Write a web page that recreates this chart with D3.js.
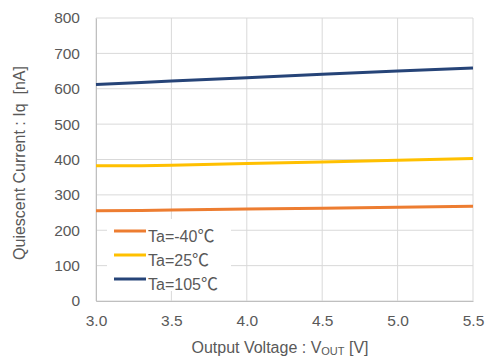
<!DOCTYPE html>
<html><head><meta charset="utf-8">
<script src="https://cdn.jsdelivr.net/npm/d3@7"></script>
<style>body{margin:0;background:#fff}svg{display:block}text{font-family:Arial,"Liberation Sans",sans-serif;fill:#595959}</style>
</head><body><svg id="c" width="486" height="358"></svg>
<script>
const xValues = [3.0, 3.3, 3.5, 4.0, 4.5, 5.0, 5.5];
const seriesLabels = ["Ta=-40", "Ta=25", "Ta=105"];
const unitLabel = "\u2103";
const iqM40 = [255, 256, 257, 260, 262, 265, 268];
const iq25 = [382, 382, 384, 389, 393, 398, 403];
const iq105 = [612, 618, 622, 631, 641, 650, 659];
const colors = ["#ED7D31", "#FFC000", "#264478"];
const xTicks = [3.0, 3.5, 4.0, 4.5, 5.0, 5.5];
const yTicks = [0, 100, 200, 300, 400, 500, 600, 700, 800];

const svg = d3.select("#c");
const L = 96, R = 473, T = 18, B = 301;
const x = d3.scaleLinear().domain([3.0, 5.5]).range([L, R]);
const y = d3.scaleLinear().domain([0, 800]).range([B, T]);

// grid
svg.append("g").selectAll("line").data(yTicks).join("line")
  .attr("x1", L).attr("x2", R).attr("y1", d => y(d)).attr("y2", d => y(d))
  .attr("stroke", "#d9d9d9").attr("stroke-width", 1);
svg.append("g").selectAll("line").data(xTicks).join("line")
  .attr("y1", T).attr("y2", B).attr("x1", d => x(d)).attr("x2", d => x(d))
  .attr("stroke", "#d9d9d9").attr("stroke-width", 1);

// axes
const yAxis = svg.append("g").attr("transform", `translate(${L},0)`)
  .call(d3.axisLeft(y).tickValues(yTicks).tickSize(0).tickPadding(16).tickFormat(d3.format("d")));
const xAxis = svg.append("g").attr("transform", `translate(0,${B})`)
  .call(d3.axisBottom(x).tickValues(xTicks).tickSize(0).tickPadding(14).tickFormat(d3.format(".1f")));
[yAxis, xAxis].forEach(g => {
  g.select(".domain").attr("stroke", "#bfbfbf");
  g.selectAll("text").style("font-size", "15.5px").attr("fill", "#595959");
});

// lines
const data = [iqM40, iq25, iq105];
const line = d3.line().x((d, i) => x(xValues[i])).y(d => y(d));
svg.append("g").selectAll("path").data(data).join("path")
  .attr("d", line).attr("fill", "none")
  .attr("stroke", (d, i) => colors[i]).attr("stroke-width", 3);

// legend
const lg = svg.append("g");
lg.append("rect").attr("x", 107).attr("y", 219).attr("width", 124).attr("height", 72).attr("fill", "#fff");
seriesLabels.forEach((n, i) => {
  const yy = 231 + i * 24;
  lg.append("line").attr("x1", 114).attr("x2", 146).attr("y1", yy).attr("y2", yy)
    .attr("stroke", colors[i]).attr("stroke-width", 3);
  const t = lg.append("text").attr("x", 148).attr("y", yy + 10.5).style("font-size", "16px");
  t.append("tspan").text(n);
  t.append("tspan").style("font-family", "'Noto Sans CJK JP'").style("font-size", "17px").text(unitLabel);
});

// titles
svg.append("text").attr("transform", "translate(25,163) rotate(-90)")
  .attr("text-anchor", "middle").style("font-size", "16px").attr("xml:space", "preserve")
  .text("Quiescent Current : Iq  [nA]");
const xt = svg.append("text").attr("x", 280).attr("y", 353).attr("text-anchor", "middle").style("font-size", "16px");
xt.append("tspan").text("Output Voltage : V");
xt.append("tspan").attr("dy", 2).style("font-size", "11px").text("OUT");
xt.append("tspan").attr("dy", -2).text(" [V]");
</script></body></html>
